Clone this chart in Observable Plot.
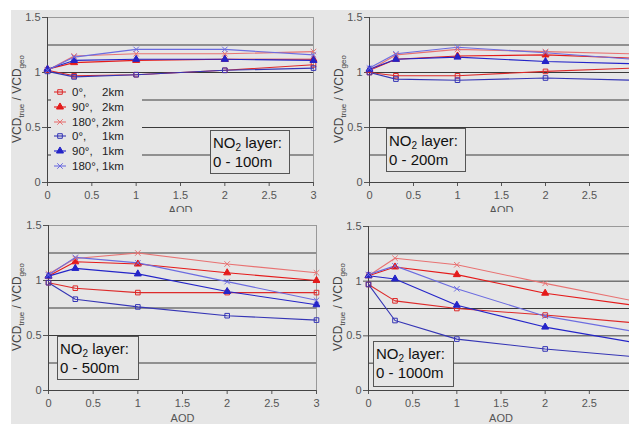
<!DOCTYPE html>
<html><head><meta charset="utf-8">
<script src="https://cdn.jsdelivr.net/npm/d3@7"></script>
<script src="https://cdn.jsdelivr.net/npm/@observablehq/plot@0.6"></script>
<style>
html,body{margin:0;padding:0;width:629px;height:424px;overflow:hidden;background:#fff;font-family:"Liberation Sans",Arial,sans-serif;}
#wrap{position:relative;width:629px;height:424px;overflow:hidden;}
#bg{position:absolute;left:11px;top:10px;width:618px;height:409px;background:#e6e6e6;}
.panel{position:absolute;}
.panel svg{max-width:none !important;}
.ylab{position:absolute;font-size:12px;color:#444;white-space:nowrap;transform:translate(-50%,-50%) rotate(-90deg);}
.ylab sub{font-size:8px;}
.box{position:absolute;border:1px solid #555;background:#e6e6e6;font-size:15px;color:#111;line-height:19px;padding:2px 0 0 2px;box-sizing:border-box;}
.box sub{font-size:10px;vertical-align:-3px;line-height:0;}
#legend{position:absolute;left:51px;top:84px;width:91px;height:90px;background:#e6e6e6;font-size:11.5px;color:#222;}
.lrow{position:absolute;left:0;height:14px;}
.lrow svg{position:absolute;left:3px;top:0;}
.lrow .a{position:absolute;left:21px;top:0;line-height:14px;}
.lrow .b{position:absolute;left:51px;top:0;line-height:14px;}
</style></head>
<body><div id="wrap"><div id="bg"></div></div>
<script>
const aod = [0, 0.3, 1, 2, 3];
const seriesNames = ["0°, 2km", "90°, 2km", "180°, 2km", "0°, 1km", "90°, 1km", "180°, 1km"];
const seriesAngle = ["0°,", "90°,", "180°,", "0°,", "90°,", "180°,"];
const seriesHeight = ["2km", "2km", "2km", "1km", "1km", "1km"];
const seriesColors = ["#dd2a2a", "#e41a1a", "#e87272", "#3535b5", "#2424c8", "#6c6ce0"];
const seriesSymbols = ["square", "triangle", "times", "square", "triangle", "times"];
const seriesFilled = [false, true, false, false, true, false];
const yTicks = [0, 0.5, 1, 1.5];
const xTicks = [0, 0.5, 1, 1.5, 2, 2.5, 3];
const xTicksCut = [0, 0.5, 1, 1.5, 2, 2.5];
const gridValues = [0.25, 0.5, 0.75, 1, 1.25];
const layerLabels = ["0 - 100m", "0 - 200m", "0 - 500m", "0 - 1000m"];

const layer100 = [
  [1.02, 0.97, 0.98, 1.02, 1.07],
  [1.03, 1.09, 1.11, 1.12, 1.12],
  [1.02, 1.15, 1.17, 1.17, 1.19],
  [1.01, 0.96, 0.98, 1.02, 1.04],
  [1.03, 1.11, 1.12, 1.12, 1.11],
  [1.02, 1.14, 1.21, 1.21, 1.16]
];
const layer200 = [
  [1.00, 0.97, 0.97, 1.01, 1.04],
  [1.02, 1.12, 1.15, 1.16, 1.13],
  [1.02, 1.16, 1.21, 1.19, 1.17],
  [1.00, 0.94, 0.93, 0.95, 0.93],
  [1.03, 1.12, 1.14, 1.10, 1.08],
  [1.04, 1.17, 1.23, 1.18, 1.12]
];
const layer500 = [
  [0.98, 0.93, 0.89, 0.89, 0.89],
  [1.04, 1.17, 1.15, 1.07, 1.00],
  [1.06, 1.20, 1.25, 1.15, 1.07],
  [0.98, 0.83, 0.76, 0.68, 0.64],
  [1.04, 1.11, 1.06, 0.90, 0.78],
  [1.05, 1.21, 1.16, 0.99, 0.82]
];
const layer1000 = [
  [0.97, 0.82, 0.75, 0.69, 0.62],
  [1.05, 1.13, 1.06, 0.89, 0.78],
  [1.05, 1.21, 1.15, 0.98, 0.82],
  [0.97, 0.64, 0.47, 0.38, 0.31],
  [1.05, 1.02, 0.78, 0.58, 0.44],
  [1.06, 1.14, 0.93, 0.68, 0.54]
];

const layers = [layer100, layer200, layer500, layer1000];
const layout = [
  {left: 11, top: 10, ml: 36, mt: 7, pw: 266, ph: 165, mb: 35, ylx: 18, yly: 99, box: [210, 130, 80, 44], cut: false},
  {left: 320, top: 10, ml: 49, mt: 7, pw: 264, ph: 165, mb: 35, ylx: 340, yly: 99, box: [386, 128, 80, 44], cut: true},
  {left: 11, top: 212, ml: 37, mt: 13, pw: 268, ph: 165, mb: 34, ylx: 18, yly: 307, box: [57, 336, 82, 44], cut: false},
  {left: 320, top: 212, ml: 48, mt: 14, pw: 265, ph: 164, mb: 34, ylx: 339, yly: 307, box: [373, 341, 81, 46], cut: true}
];

const wrap = document.getElementById("wrap");

layers.forEach((vals, i) => {
  const L = layout[i];
  const rows = [];
  vals.forEach((s, si) => s.forEach((v, k) => rows.push({series: seriesNames[si], si, x: aod[k], y: v})));
  const mr = 7;
  const W = L.ml + L.pw + mr;
  const chart = Plot.plot({
    width: W,
    height: L.mt + L.ph + L.mb,
    marginLeft: L.ml, marginRight: mr, marginTop: L.mt, marginBottom: L.mb,
    style: {background: i >= 2 ? "#e6e6e6" : "transparent", fontFamily: "Liberation Sans, Arial, sans-serif", fontSize: "11px", color: "#555", overflow: "visible", maxWidth: "none"},
    x: {domain: [0, 3]},
    y: {domain: [0, 1.5]},
    marks: [
      Plot.ruleY([1.5], {stroke: "#999", strokeWidth: 1}),
      Plot.ruleX([3], {stroke: "#999", strokeWidth: 1}),
      Plot.ruleY(gridValues, {stroke: "#3a3a3a", strokeWidth: 1}),
      Plot.axisY({ticks: yTicks, tickSize: 5, tickPadding: 2, tickFormat: d => String(d), label: null, stroke: "#555"}),
      Plot.axisX({ticks: L.cut ? xTicksCut : xTicks, tickSize: 4, tickPadding: 5, tickFormat: d => String(d), label: "AOD", labelAnchor: "center", labelOffset: 31, labelArrow: "none", stroke: "#555"}),
      Plot.ruleX([0], {stroke: "#444"}),
      Plot.ruleY([0], {stroke: "#444"}),
      Plot.line(rows, {x: "x", y: "y", z: "series", stroke: d => seriesColors[d.si], strokeWidth: 1.1}),
      Plot.dot(rows, {x: "x", y: "y", symbol: d => seriesSymbols[d.si], r: 2.6,
        stroke: d => seriesColors[d.si], fill: d => seriesFilled[d.si] ? seriesColors[d.si] : "none", strokeWidth: 1})
    ]
  });
  const div = document.createElement("div");
  div.className = "panel";
  div.style.left = L.left + "px";
  div.style.top = L.top + "px";
  div.style.width = W + "px";
  div.appendChild(chart);
  wrap.appendChild(div);

  const yl = document.createElement("div");
  yl.className = "ylab";
  yl.style.left = L.ylx + "px";
  yl.style.top = L.yly + "px";
  yl.innerHTML = "VCD<sub>true</sub> / VCD<sub>geo</sub>";
  wrap.appendChild(yl);

  const box = document.createElement("div");
  box.className = "box";
  box.style.left = L.box[0] + "px";
  box.style.top = L.box[1] + "px";
  box.style.width = L.box[2] + "px";
  box.style.height = L.box[3] + "px";
  box.innerHTML = "NO<sub>2</sub> layer:<br>" + layerLabels[i];
  wrap.appendChild(box);
});

// legend (top-left panel)
const legend = document.createElement("div");
legend.id = "legend";
seriesNames.forEach((name, si) => {
  const row = document.createElement("div");
  row.className = "lrow";
  row.style.top = (1 + si * 14.8) + "px";
  const sym = {square: d3.symbolSquare, triangle: d3.symbolTriangle, times: d3.symbolTimes}[seriesSymbols[si]];
  const path = d3.symbol(sym, Math.PI * 2.6 * 2.6)();
  row.innerHTML =
    `<svg width="14" height="14"><line x1="0" x2="12" y1="7" y2="7" stroke="${seriesColors[si]}" stroke-width="1.1"/>` +
    `<path transform="translate(6,7)" d="${path}" stroke="${seriesColors[si]}" fill="${seriesFilled[si] ? seriesColors[si] : "none"}"/></svg>` +
    `<span class="a">${seriesAngle[si]}</span><span class="b">${seriesHeight[si]}</span>`;
  legend.appendChild(row);
});
wrap.appendChild(legend);
</script>
</body></html>
